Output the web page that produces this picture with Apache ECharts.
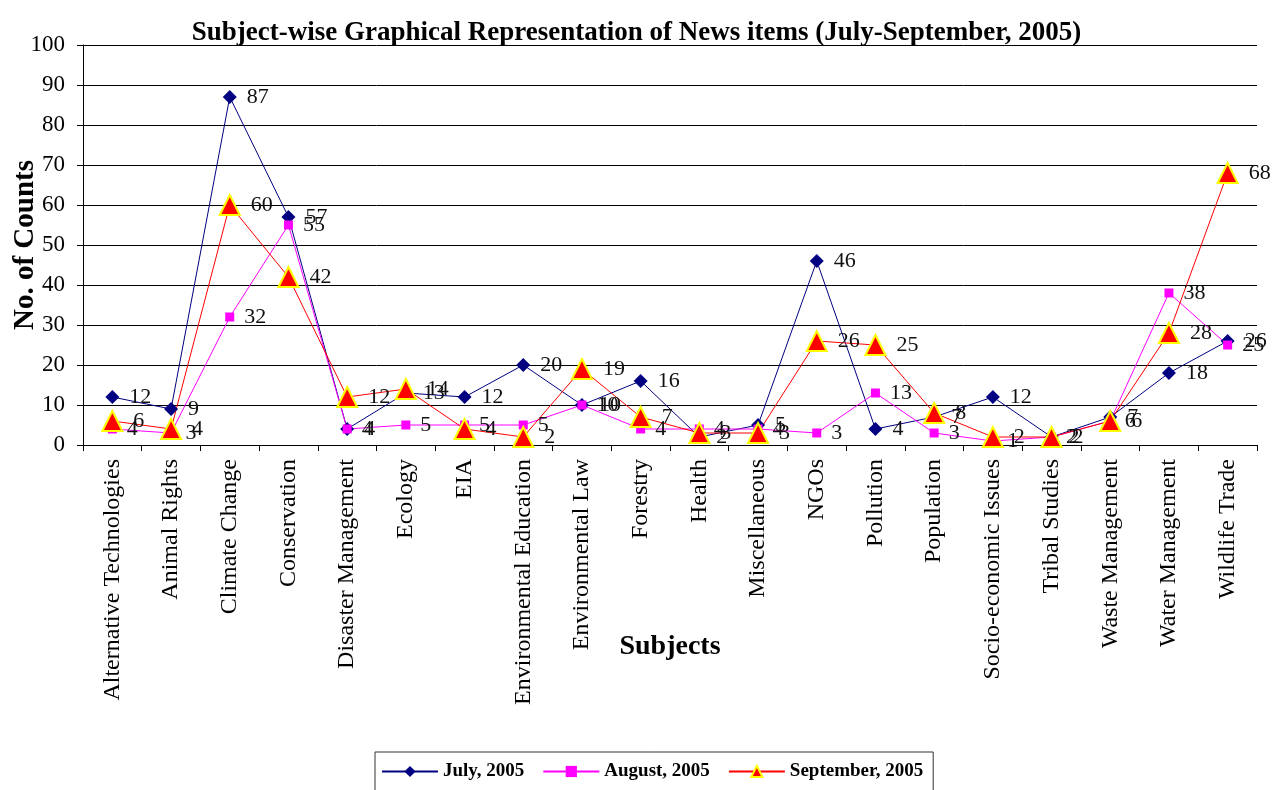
<!DOCTYPE html>
<html>
<head>
<meta charset="utf-8">
<script src="https://cdn.jsdelivr.net/npm/echarts@6/dist/echarts.min.js"></script>
<style>
  html, body { margin: 0; padding: 0; background: #fff; }
  #chart { width: 1273px; height: 790px; }
</style>
</head>
<body>
<div id="chart"></div>
<script>
// subjects on the x axis
const subjects = [
  'Alternative Technologies', 'Animal Rights', 'Climate Change', 'Conservation',
  'Disaster Management', 'Ecology', 'EIA', 'Environmental Education',
  'Environmental Law', 'Forestry', 'Health', 'Miscellaneous', 'NGOs',
  'Pollution', 'Population', 'Socio-economic Issues', 'Tribal Studies',
  'Waste Management', 'Water Management', 'Wildlife Trade'
];
const july = [12, 9, 87, 57, 4, 13, 12, 20, 10, 16, 2, 5, 46, 4, 7, 12, 2, 7, 18, 26];
const august = [4, 3, 32, 55, 4, 5, 5, 5, 10, 4, 4, 4, 3, 13, 3, 1, 2, 6, 38, 25];
const september = [6, 4, 60, 42, 12, 14, 4, 2, 19, 7, 3, 3, 26, 25, 8, 2, 2, 6, 28, 68];
const yTicks = [0, 10, 20, 30, 40, 50, 60, 70, 80, 90, 100];

const serif = '"Liberation Serif", "DejaVu Serif", serif';

const label = {
  show: true,
  position: 'right',
  distance: 10,
  color: '#111',
  fontFamily: serif,
  fontSize: 22
};

const options = {
  animation: false,
  backgroundColor: '#fff',
  title: {
    text: 'Subject-wise Graphical Representation of News items (July-September, 2005)',
    left: 'center',
    top: 15,
    textStyle: { fontFamily: serif, fontWeight: 'bold', fontSize: 27, color: '#000' }
  },
  grid: { left: 83, right: 16, top: 45, bottom: 345, containLabel: false, outerBoundsMode: 'none' },
  legend: {
    top: 752,
    left: 375,
    itemWidth: 56,
    itemHeight: 14,
    itemGap: 18,
    padding: [10, 10, 10, 6],
    borderColor: '#333',
    borderWidth: 1,
    textStyle: { fontFamily: serif, fontWeight: 'bold', fontSize: 19, color: '#000' },
    data: ['July, 2005', 'August, 2005', 'September, 2005']
  },
  xAxis: {
    type: 'category',
    data: subjects,
    boundaryGap: true,
    name: 'Subjects',
    nameLocation: 'middle',
    nameGap: 188,
    nameMoveOverlap: false,
    nameTextStyle: { fontFamily: serif, fontWeight: 'bold', fontSize: 28, color: '#000' },
    axisLine: { lineStyle: { color: '#000' } },
    axisTick: { show: true, alignWithLabel: false, length: 6, lineStyle: { color: '#000' } },
    axisLabel: { rotate: 90, interval: 0, margin: 14, fontFamily: serif, fontSize: 24, color: '#000' }
  },
  yAxis: {
    type: 'value',
    min: yTicks[0],
    max: yTicks[yTicks.length - 1],
    interval: 10,
    name: 'No. of Counts',
    nameLocation: 'middle',
    nameGap: 43,
    nameMoveOverlap: false,
    nameTextStyle: { fontFamily: serif, fontWeight: 'bold', fontSize: 29, color: '#000' },
    axisLine: { show: true, lineStyle: { color: '#000' } },
    axisTick: { show: true, length: 6, lineStyle: { color: '#000' } },
    axisLabel: { fontFamily: serif, fontSize: 23, color: '#000', margin: 18 },
    splitLine: { show: true, lineStyle: { color: '#000', width: 1 } }
  },
  series: [
    {
      name: 'July, 2005',
      type: 'line',
      data: july,
      symbol: 'diamond',
      symbolSize: 14,
      itemStyle: { color: '#000080' },
      lineStyle: { color: '#000080', width: 1 },
      label: label
    },
    {
      name: 'August, 2005',
      type: 'line',
      data: august,
      symbol: 'rect',
      symbolSize: 9,
      itemStyle: { color: '#ff00ff' },
      lineStyle: { color: '#ff00ff', width: 1 },
      label: label
    },
    {
      name: 'September, 2005',
      type: 'line',
      data: september,
      symbol: 'triangle',
      symbolSize: 20,
      itemStyle: { color: '#ff0000', borderColor: '#ffff00', borderWidth: 2 },
      lineStyle: { color: '#ff0000', width: 1 },
      label: label
    }
  ]
};

const myChart = echarts.init(document.getElementById('chart'));
myChart.setOption(options);
</script>
</body>
</html>
